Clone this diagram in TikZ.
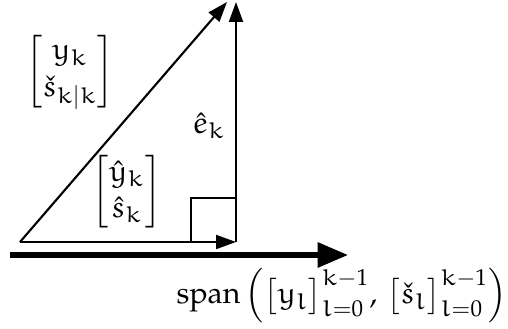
\documentclass[tikz,border=0pt]{standalone}
\usepackage{amsmath}
\usepackage[T1]{fontenc}
\usepackage{mathpazo}
\usetikzlibrary{arrows.meta}
\DeclareFontFamily{U}{eurx}{\skewchar\font'177}
\DeclareFontShape{U}{eurx}{m}{n}{<-6>eurm5<6-8>eurm7<8->eurm10}{}
\DeclareMathAlphabet{\matheu}{U}{eurx}{m}{n}
\newcommand{\eu}[1]{\matheu{#1}}

\begin{document}
\begin{tikzpicture}[x=0.33pt,y=-0.33pt,
  vec/.style={line width=0.7pt,-{Triangle[length=6.6pt,width=4.6pt]}},
  axis/.style={line width=1.7pt,-{Triangle[length=10pt,width=8pt]}},
  lab/.style={inner sep=0pt}]
  \useasboundingbox (0,0) rectangle (508,329);

  % ---- points ----
  \coordinate (o) at (20,242);
  \coordinate (p) at (236,242);
  \coordinate (t) at (236,2);
  \coordinate (d) at (227,2);
  \coordinate (a0) at (10,255);
  \coordinate (a1) at (348,255);
  \coordinate (sq) at (191,198);

  % ---- subspace ----
  \draw[axis] (a0) -- (a1);
  \node[lab] (span) at (342,296)
    {$\operatorname{span}\left(\bigl[\eu{y}_{\eu{l}}\bigr]_{\eu{l}=0}^{\eu{k}-1},\,\bigl[\check{\eu{s}}_{\eu{l}}\bigr]_{\eu{l}=0}^{\eu{k}-1}\right)$};

  % ---- vectors ----
  \draw[vec] (o) -- (p);
  \draw[vec] (p) -- (t);
  \draw[vec] (o) -- (d);
  \draw[line width=0.7pt] (sq |- p) |- (sq -| p);

  % ---- labels ----
  \node[lab] (meas) at (70,72) {$\begin{bmatrix}\eu{y}_{\eu{k}}\\ \check{\eu{s}}_{\eu{k}|\eu{k}}\end{bmatrix}$};
  \node[lab] (err) at (209,126) {$\hat{\eu{e}}_{\eu{k}}$};
  \node[lab] (est) at (127,192) {$\begin{bmatrix}\hat{\eu{y}}_{\eu{k}}\\ \hat{\eu{s}}_{\eu{k}}\end{bmatrix}$};
\end{tikzpicture}
\end{document}
